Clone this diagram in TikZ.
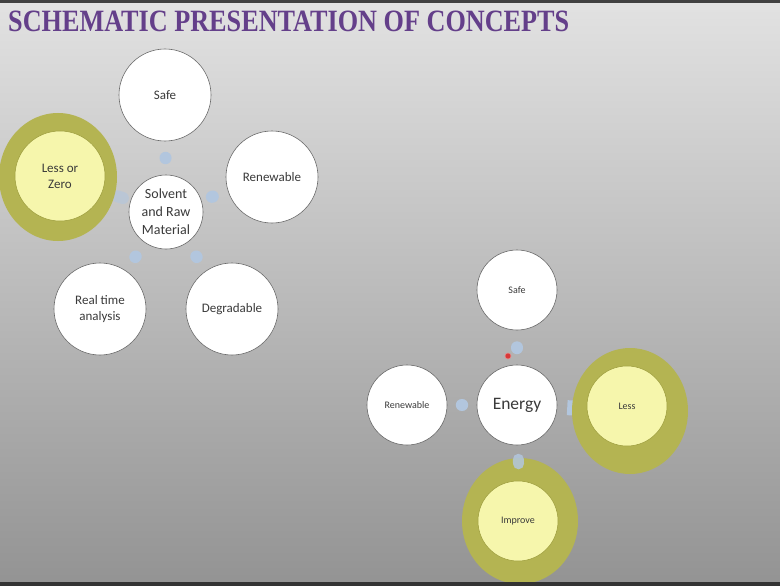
\documentclass[tikz,border=0pt]{standalone}
\usepackage{graphicx}
\usepackage{fontspec}
\setmainfont{Carlito}
\newfontfamily\titlefont{Liberation Serif}
\usetikzlibrary{backgrounds,shapes.geometric}
\definecolor{ttl}{HTML}{643F8A}
\definecolor{bgtop}{HTML}{E2E2E2}
\definecolor{bgmid}{HTML}{BDBDBD}
\definecolor{bgbot}{HTML}{939393}
\definecolor{bordergray}{HTML}{6A6A6A}
\definecolor{txt}{HTML}{3A3A3A}
\definecolor{olive1}{HTML}{B4B452}
\definecolor{olive2}{HTML}{9A9A3A}
\definecolor{yel1}{HTML}{F6F6AC}
\definecolor{connblue}{HTML}{B2C6DE}
\definecolor{dotred}{HTML}{D83838}
\begin{document}
\begin{tikzpicture}[x=1pt,y=-1pt,
  bub/.style={circle, draw=bordergray, line width=0.6pt, fill=white, inner sep=0pt, align=center, text=txt},
  ring/.style={ellipse, fill=olive1, inner sep=0pt},
  yel/.style={circle, fill=yel1, draw=olive2, line width=0.5pt, inner sep=0pt, align=center, text=txt},
  conn/.style={draw=connblue, line width=12pt, line cap=round},
  lbl/.style={font=\fontsize{13}{16}\selectfont},
  slbl/.style={font=\fontsize{10}{12}\selectfont}]
\useasboundingbox (0,0) rectangle (780,586);

% title
\node[anchor=base west, inner sep=0pt, text=ttl, font=\titlefont\bfseries\fontsize{31}{31}\selectfont] (title) at (8,32) {\scalebox{0.845}[1]{SCHEMATIC PRESENTATION OF CONCEPTS}};

% left diagram
\node[bub, lbl, minimum size=92pt] (ls) at (165,95) {Safe};
\node[ring, minimum width=118pt, minimum height=128pt] (lzr) at (58,177) {};
\node[yel, lbl, minimum size=90pt] (lz) at (60,176) {Less or\\Zero};
\node[bub, lbl, minimum size=92pt] (lr) at (272,177) {Renewable};
\node[bub, minimum size=74pt, font=\fontsize{14}{18}\selectfont] (lc) at (166,212) {Solvent\\and Raw\\Material};
\node[bub, lbl, minimum size=92pt] (lt) at (100,309) {Real time\\analysis};
\node[bub, lbl, minimum size=92pt] (ld) at (232,309) {Degradable};

% right diagram
\node[bub, slbl, minimum size=80pt] (rs) at (517,290) {Safe};
\node[bub, minimum size=80pt, font=\fontsize{17.5}{20}\selectfont] (re) at (517,405) {Energy};
\node[bub, slbl, minimum size=80pt] (rn) at (407,405) {Renewable};
\node[ring, minimum width=116pt, minimum height=126pt] (rlr) at (630,411) {};
\node[yel, slbl, minimum size=80pt] (rl) at (627,406) {Less};
\node[ring, minimum width=116pt, minimum height=126pt] (rir) at (520,521) {};
\node[yel, slbl, minimum size=80pt] (ri) at (518,521) {Improve};

\draw[conn, line width=11pt, opacity=0.85, shorten <=14pt, shorten >=-6pt] (re) -- (rir);

\node[circle, fill=dotred, draw=dotred!60!white, line width=0.6pt, minimum size=6pt, inner sep=0pt] (dot) at (508,356) {};

% background and connectors
\begin{scope}[on background layer]
  \shade[top color=bgtop, middle color=bgmid, bottom color=bgbot] (0,0) rectangle (780,586);
  \draw[conn, shorten <=16.5pt, shorten >=16.5pt] (lc) -- (ls);
  \draw[conn, shorten <=11pt, shorten >=16pt] (lc) -- (lr);
  \draw[conn, opacity=0.6, shorten <=8pt, shorten >=3pt] (lc) -- (lzr);
  \draw[conn, shorten <=16.5pt, shorten >=16.5pt] (lc) -- (lt);
  \draw[conn, shorten <=16.5pt, shorten >=16.5pt] (lc) -- (ld);
  \draw[conn, shorten <=16.5pt, shorten >=17pt] (re) -- (rs);
  \draw[conn, shorten <=14.5pt, shorten >=14.5pt] (re) -- (rn);
  \draw[conn, line width=15pt, line cap=butt, shorten <=10pt, shorten >=-3pt] (re) -- (rlr);
\end{scope}

% frame bars
\fill[black!75] (0,0) rectangle (780,3);
\fill[black!80] (0,582) rectangle (780,586);
\end{tikzpicture}
\end{document}
